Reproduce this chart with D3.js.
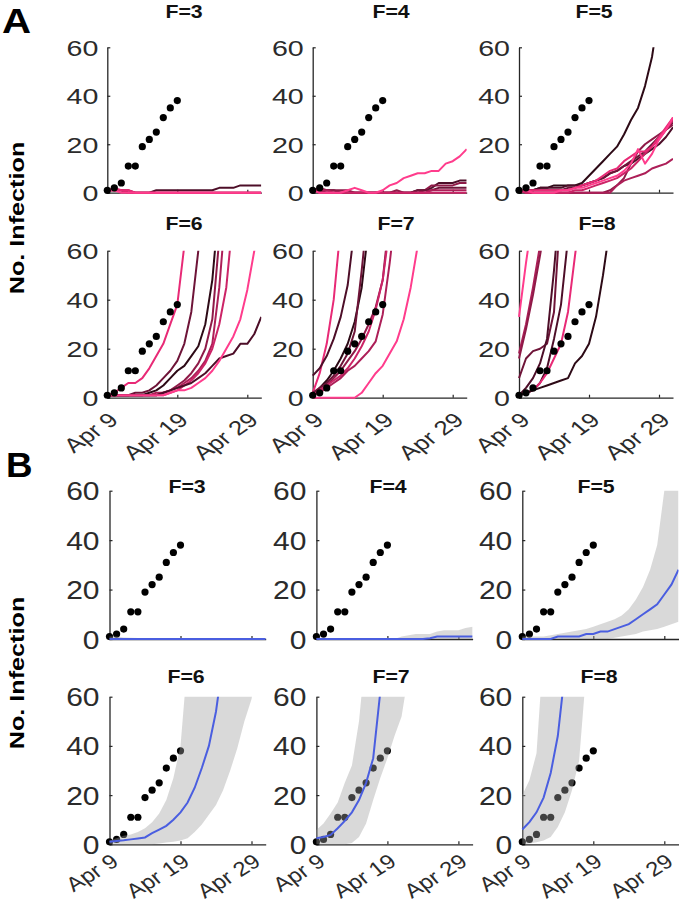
<!DOCTYPE html>
<html><head><meta charset="utf-8">
<script src="https://cdn.jsdelivr.net/npm/d3@7"></script>
<style>
body{margin:0;background:#fff}
svg{display:block}
text{font-family:"Liberation Sans",Arial,Helvetica,sans-serif}
</style>
</head><body>
<svg id="chart" width="683" height="907"></svg>
<script>
// ---------------- DATA ----------------
const startDate = new Date(2020, 3, 9);      // Apr 9
const lastDay = 22;                          // axis runs to May 1
const observed = [1, 2, 4, 11, 11, 19, 22, 25, 31, 35, 38];   // Apr 9 .. Apr 19
const xTickDays = [0, 10, 20];               // Apr 9, Apr 19, Apr 29
const yTickValues = [0, 20, 40, 60];
const panelTitles = ["F=3", "F=4", "F=5", "F=6", "F=7", "F=8"];
const yLabel = "No. Infection";
const lineColors = ["#2d0a16", "#4d0e28", "#6e1438", "#8f1a48", "#ad1f58", "#cc2467", "#e82a76", "#ff3c8c"];

// Panel A: stochastic simulation runs (daily values from Apr 9)
const simF3 = [
  [1,1,1,0,0,0,0,1,1,1,1,1,1,1,1,1,2,2,2,3,3,3,3],
  [1,1,1,1,0,0,0,0,0,0,0,0,0,0,0,0,0,0,0,0,0,0,0],
  [1,1,1,0,0,0,0,0,0,0,0,0,0,0,0,0,0,0,0,0,0,0,0],
  [1,2,1,1,0,0,0,0,0,0,0,0,0,0,0,0,0,0,0,0,0,0,0],
  [1,1,0,0,0,0,0,0,0,0,0,0,0,0,0,0,0,0,0,0,0,0,0]
];
const simF3Colors = [1, 3, 5, 6, 7];
const simF4 = [
  [1,1,1,1,0,0,0,0,0,0,0,0,0,0,0,1,1,2,4,4,4,5,5],
  [1,2,1,1,1,1,0,0,0,0,0,0,1,0,0,0,1,3,3,3,3,4,4],
  [1,1,0,0,0,0,0,0,0,0,0,0,0,0,0,1,1,1,2,2,2,2,2],
  [1,1,1,0,0,0,0,0,0,0,0,0,0,0,0,0,0,1,1,1,1,1,1],
  [1,0,0,0,0,0,0,0,0,0,0,0,0,0,0,0,0,0,0,0,0,0,0],
  [1,0,0,0,0,1,2,1,0,0,1,3,4,6,7,8,8,9,9,12,13,15,18]
];
const simF4Colors = [1, 3, 2, 4, 5, 7];
const simF5 = [
  [1,1,1,2,2,3,3,3,3,4,7,10,13,16,19,24,30,35,44,56,75,95,115],
  [1,1,1,2,2,2,2,3,3,3,4,5,6,8,9,11,12,14,16,18,20,23,27],
  [1,1,1,1,1,1,1,2,2,3,4,5,6,8,9,11,13,15,17,20,23,26,29],
  [1,0,0,0,0,0,0,0,0,0,0,0,0,1,3,6,12,17,20,22,24,26,28],
  [1,0,0,0,0,0,0,0,0,0,0,0,0,0,3,5,6,7,8,10,11,12,14],
  [1,0,0,0,0,0,0,0,1,1,2,3,4,5,6,8,10,13,16,19,22,26,30],
  [1,1,1,1,1,1,1,1,2,3,4,5,7,9,10,13,15,17,17,19,23,27,31],
  [1,1,0,0,0,0,1,1,2,2,3,4,5,6,7,9,12,18,12,16,22,26,31]
];
const simF5Colors = [0, 1, 2, 3, 4, 5, 6, 7];
const simF6 = [
  [1,1,1,1,2,2,3,5,8,11,15,22,35,60,90],
  [1,1,1,1,1,1,2,3,5,8,11,13,17,21,30,48,80],
  [1,1,1,1,1,1,1,1,2,3,5,7,10,14,20,32,65,90],
  [1,1,1,1,1,1,1,2,2,3,4,6,8,11,15,22,45,80],
  [1,1,1,1,1,1,1,1,1,2,3,5,7,10,14,20,30,45,75],
  [1,1,1,1,1,1,1,1,2,3,4,5,6,8,10,13,16,17,18,22,22,26,33],
  [1,1,1,1,1,1,1,1,1,2,3,3,4,6,8,11,15,20,25,32,44,60,80],
  [1,2,4,6,6,8,12,17,22,30,38,62,90]
];
const simF6Colors = [2, 0, 3, 4, 5, 1, 7, 6];
const simF7 = [
  [2,10,22,40,70],
  [9,12,17,24,33,46,70],
  [1,4,7,11,16,22,31,45,70],
  [2,4,6,9,13,18,27,52,80],
  [1,3,5,8,11,15,19,24,30,37,48,75],
  [1,3,5,7,9,12,16,21,27,36,48,70],
  [1,2,4,6,8,11,13,16,19,23,34,55,80],
  [0,0,0,0,0,0,0,2,6,10,13,18,23,32,45,62,90]
];
const simF7Colors = [6, 1, 0, 2, 3, 5, 4, 7];
const simF8 = [
  [33,55,75],
  [18,30,45,62,80],
  [16,28,42,58,75],
  [8,16,19,20,22,35,80],
  [1,4,8,14,24,52,85],
  [1,2,3,6,12,24,38,65,90],
  [1,2,3,6,10,16,22,35,58,80],
  [1,2,3,4,5,6,7,8,14,17,22,33,50,70]
];
const simF8Colors = [7, 4, 3, 2, 1, 1, 6, 0];

// Panel B: mean and band (upper / lower) of the runs
const meanF3  = [0,0,0,0,0,0,0,0,0,0,0,0,0,0,0,0,0,0,0,0,0,0,0];
const upperF3 = [1,1,0.6,0.5,0.4,0,0,0,0,0,0,0,0,0,0,0,0,0,0,0,0,0,0];
const lowerF3 = [0,0,0,0,0,0,0,0,0,0,0,0,0,0,0,0,0,0,0,0,0,0,0];
const meanF4  = [0,0,0,0,0,0,0,0,0,0,0,0,0,0,0,0,0.3,1,1,1,1,1,1];
const upperF4 = [0.5,0.5,0.3,0,0,0,0,0,0,0,0,0,1,1.5,2,2,2,3,3.5,3.5,3.5,4.5,5];
const lowerF4 = [0,0,0,0,0,0,0,0,0,0,0,0,0,0,0,0,0,0,0,0,0,0,0];
const meanF5  = [0,0,0,0,0,1,1,1,1,2,2,3,3,4,5,6,8,10,12,14,18,22,28];
const upperF5 = [1,1,1,1,1.5,2,2.5,3,3.5,4,5,6,7,8,9.5,12,16,21,28,38,60,90,120];
const lowerF5 = [0,0,0,0,0,0,0,0,0,0,0,0,0,0.5,1,1.5,2,3,3.5,4,5,6,7];
const meanF6  = [1,1.3,1.6,2,2.4,2.8,4.5,6,7.5,10,13,17,23,31,40,54,75,100];
const upperF6 = [1.5,2.5,3.5,4,5,6.5,9,12.5,18,27,40,75,110,150,200,250,300,350,400,450,500,550,600];
const lowerF6 = [0,0,0,0,0,0,0,0.3,0.7,1,1.5,2.5,5,8,12,16,22,30,39,50,59,75,95];
const meanF7  = [2.5,3,3.8,6.5,9.5,13,18,25,35,62,100];
const upperF7 = [5.8,8.5,12.5,17,25,32,50,80,120,160,200,250,300,350,400];
const lowerF7 = [0,0,0,0,0,0.5,3,8.5,18,27,35,44,52,70,100];
const meanF8  = [6,9,13,19,29,44,70];
const upperF8 = [20,26,37,80,120,160,200,250,300,350,400];
const lowerF8 = [0,0.3,0.8,1.5,3,7,13,22,34,70,110];

const simSets   = [simF3, simF4, simF5, simF6, simF7, simF8];
const simColors = [simF3Colors, simF4Colors, simF5Colors, simF6Colors, simF7Colors, simF8Colors];
const meanSets  = [meanF3, meanF4, meanF5, meanF6, meanF7, meanF8];
const upperSets = [upperF3, upperF4, upperF5, upperF6, upperF7, upperF8];
const lowerSets = [lowerF3, lowerF4, lowerF5, lowerF6, lowerF7, lowerF8];

// ---------------- LAYOUT ----------------
const layoutA = {
  cols: [107.3, 312.7, 519], width: 154,
  rows: [[47.3, 192.7], [250.7, 397.7]],
  titleX: [[184, 391, 594], [184, 396, 597]], titleY: [18, 230],
  tickFont: 22, tickSx: 1.3, tickGap: 9,
  dateFont: 20, dateSx: 1.3, dateRot: -42, dateDx: 12, dateDy: 24,
  lineW: 2
};
const layoutB = {
  cols: [109.5, 316.4, 522.3], width: 156.2,
  rows: [[490.7, 639], [696.7, 844.3]],
  titleX: [[187, 388, 596], [186, 391, 599]], titleY: [493, 683],
  tickFont: 25, tickSx: 1.2, tickGap: 10,
  dateFont: 20, dateSx: 1.2, dateRot: -36, dateDx: 10, dateDy: 20,
  lineW: 2
};
const axisColor = "#262626";
const textColor = "#2b2b2b";

const svg = d3.select("#chart");
const defs = svg.append("defs");
const dayToDate = d => d3.timeDay.offset(startDate, d);
let clipId = 0;

function makePanel(L, r, c, k) {
  const x0 = L.cols[c], w = L.width;
  const [yTop, yBot] = L.rows[r];
  const x = d3.scaleTime().domain([startDate, dayToDate(lastDay)]).range([x0, x0 + w]);
  const y = d3.scaleLinear().domain([0, 60]).range([yBot, yTop]);
  const g = svg.append("g");

  const id = "clip" + (clipId++);
  defs.append("clipPath").attr("id", id).append("rect")
    .attr("x", x0 - 1).attr("y", yTop).attr("width", w + 1).attr("height", yBot - yTop + 3);

  // axes
  const ya = g.append("g").attr("transform", `translate(${x0},0)`)
    .call(d3.axisLeft(y).tickValues(yTickValues).tickSize(-3).tickSizeOuter(0).tickPadding(0));
  const xa = g.append("g").attr("transform", `translate(0,${yBot})`)
    .call(d3.axisBottom(x).tickValues(xTickDays.map(dayToDate)).tickSize(-3).tickSizeOuter(0)
      .tickFormat(r === 1 ? d3.timeFormat("%b %-d") : () => ""));
  [ya, xa].forEach(a => {
    a.attr("font-size", null).attr("font-family", null);
    a.select(".domain").attr("stroke", axisColor).attr("stroke-width", 1.3);
    a.selectAll(".tick line").attr("stroke", axisColor).attr("stroke-width", 1.2);
  });
  ya.selectAll(".tick text")
    .attr("x", null).attr("dy", "0.36em").attr("fill", textColor)
    .attr("font-size", L.tickFont).attr("text-anchor", "end")
    .attr("transform", `translate(${-L.tickGap},0) scale(${L.tickSx},1)`);
  xa.selectAll(".tick text")
    .attr("y", null).attr("dy", null).attr("fill", textColor)
    .attr("font-size", L.dateFont).attr("text-anchor", "end")
    .attr("transform", `translate(${L.dateDx},${L.dateDy}) scale(${L.dateSx},1) rotate(${L.dateRot})`);

  // title
  g.append("text").attr("text-anchor", "middle").attr("font-size", 19).attr("font-weight", "bold")
    .attr("fill", "#111")
    .attr("transform", `translate(${L.titleX[r][c]},${L.titleY[r]}) scale(1.12,1)`)
    .text(panelTitles[k]);

  return { g, x, y, id };
}

function drawDots(g, x, y) {
  g.append("g").selectAll("circle").data(observed).join("circle")
    .attr("cx", (v, i) => x(dayToDate(i))).attr("cy", v => y(v))
    .attr("r", 3.6).attr("fill", "#000");
}

// ---------------- PANEL A ----------------
for (let k = 0; k < 6; k++) {
  const r = Math.floor(k / 3), c = k % 3;
  const { g, x, y, id } = makePanel(layoutA, r, c, k);
  const line = d3.line().x((v, i) => x(dayToDate(i))).y(v => y(v));
  g.append("g").attr("clip-path", `url(#${id})`)
    .selectAll("path").data(simSets[k]).join("path")
    .attr("d", line).attr("fill", "none")
    .attr("stroke", (d, i) => lineColors[simColors[k][i]])
    .attr("stroke-width", layoutA.lineW).attr("stroke-linejoin", "round");
  drawDots(g, x, y);
}

// ---------------- PANEL B ----------------
for (let k = 0; k < 6; k++) {
  const r = Math.floor(k / 3), c = k % 3;
  const { g, x, y, id } = makePanel(layoutB, r, c, k);
  drawDots(g, x, y);
  const lo = lowerSets[k], up = upperSets[k];
  const area = d3.area().x((v, i) => x(dayToDate(i))).y0(v => y(v)).y1((v, i) => y(up[i]));
  const cg = g.append("g").attr("clip-path", `url(#${id})`);
  cg.append("path").datum(lo).attr("d", area).attr("fill", "#a0a0a0").attr("fill-opacity", 0.4);
  const line = d3.line().x((v, i) => x(dayToDate(i))).y(v => y(v));
  cg.append("path").datum(meanSets[k]).attr("d", line).attr("fill", "none")
    .attr("stroke", "#4a5ee0").attr("stroke-width", layoutB.lineW);
}

// ---------------- LABELS ----------------
svg.append("text").attr("font-size", 35).attr("font-weight", "bold").attr("fill", "#000")
  .attr("transform", "translate(2,33) scale(1.15,1)").text("A");
svg.append("text").attr("font-size", 35).attr("font-weight", "bold").attr("fill", "#000")
  .attr("transform", "translate(6,477) scale(1.05,1)").text("B");
[[218], [673]].forEach(([cy]) => {
  svg.append("text").attr("font-size", 21).attr("font-weight", "bold").attr("fill", "#000")
    .attr("text-anchor", "middle")
    .attr("transform", `translate(24,${cy}) rotate(-90) scale(1.2,1)`).text(yLabel);
});
</script>
</body></html>
